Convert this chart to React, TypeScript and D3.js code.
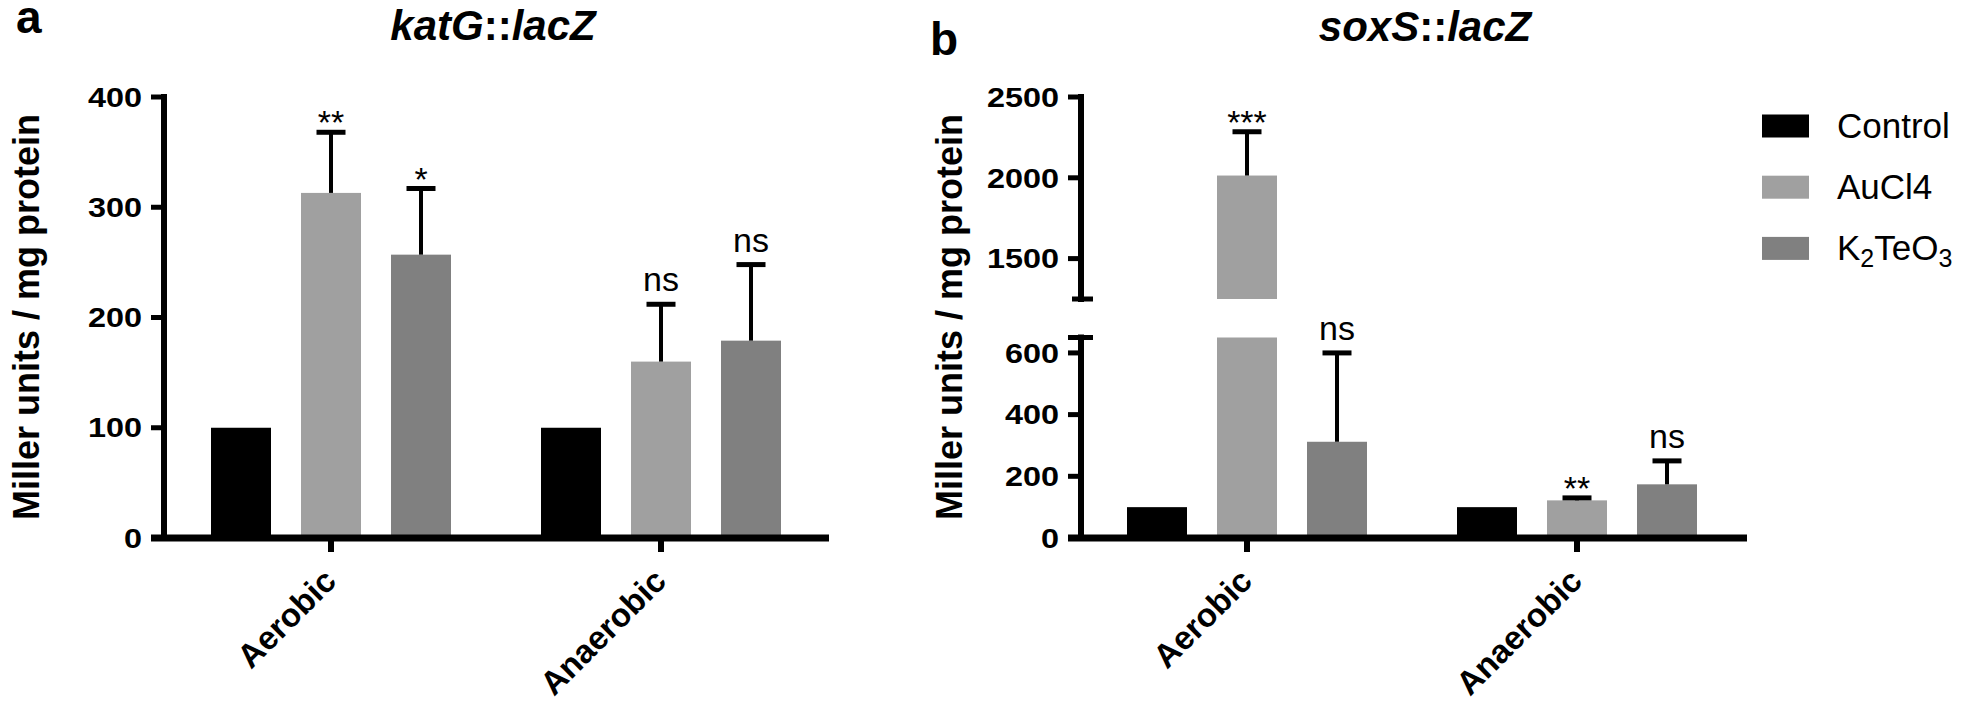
import React from 'react';
import * as d3 from 'd3';

const FONT = "'Liberation Sans', Arial, Helvetica, sans-serif";

const categories = ['Aerobic', 'Anaerobic'];
const series = ['Control', 'AuCl4', 'K2TeO3'];
const seriesColors = ['#000000', '#a0a0a0', '#808080'];

// Panel a: katG::lacZ (Miller units / mg protein)
const katGControl = [100, 100];
const katGAuCl4 = [313, 160];
const katGK2TeO3 = [257, 179];
const katGErrControl = [0, 0];
const katGErrAuCl4 = [55, 52];
const katGErrK2TeO3 = [60, 69];
const katGSigControl = ['', ''];
const katGSigAuCl4 = ['**', 'ns'];
const katGSigK2TeO3 = ['*', 'ns'];
const katGTicks = [0, 100, 200, 300, 400];
const katGDomain: [number, number] = [0, 400];

// Panel b: soxS::lacZ (broken axis)
const soxSControl = [100, 100];
const soxSAuCl4 = [2014, 122];
const soxSK2TeO3 = [312, 174];
const soxSErrControl = [0, 0];
const soxSErrAuCl4 = [271, 8];
const soxSErrK2TeO3 = [288, 76];
const soxSSigControl = ['', ''];
const soxSSigAuCl4 = ['***', '**'];
const soxSSigK2TeO3 = ['ns', 'ns'];
const soxSLowerTicks = [0, 200, 400, 600];
const soxSLowerDomain: [number, number] = [0, 650];
const soxSUpperTicks = [1500, 2000, 2500];
const soxSUpperDomain: [number, number] = [1250, 2500];

type Seg = { domain: [number, number]; range: [number, number]; ticks: number[] };

type PanelProps = {
  letter: string;
  letterX: number;
  letterY: number;
  title: [string, string];
  titleX: number;
  titleY: number;
  axisX: number;
  xRange: [number, number];
  xAxisEnd: number;
  segs: Seg[];
  values: number[][];
  errs: number[][];
  sigs: string[][];
  yLabelX: number;
};

function Panel(p: PanelProps) {
  const x0 = d3.scaleBand<string>().domain(categories).range(p.xRange);
  const x1 = d3
    .scaleBand<string>()
    .domain(series)
    .range([-135, 135])
    .paddingInner(1 / 3)
    .paddingOuter(1 / 6);
  const scales = p.segs.map((s) => d3.scaleLinear().domain(s.domain).range(s.range));
  const baseY = scales[0](0);
  const bw = x1.bandwidth();

  const bars: JSX.Element[] = [];
  const errEls: JSX.Element[] = [];
  const sigEls: JSX.Element[] = [];

  series.forEach((s, si) => {
    categories.forEach((c, ci) => {
      const v = p.values[si][ci];
      const cx = (x0(c) as number) + x0.bandwidth() / 2 + (x1(s) as number) + bw / 2;
      let topY = 0;
      p.segs.forEach((seg, k) => {
        const sc = scales[k];
        const lo = seg.domain[0];
        const hi = seg.domain[1];
        if (v <= lo) return;
        const top = Math.min(v, hi);
        if (v <= hi) topY = sc(v);
        bars.push(
          <rect
            key={`b${si}${ci}${k}`}
            x={cx - bw / 2}
            y={sc(top)}
            width={bw}
            height={sc(lo) - sc(top)}
            fill={seriesColors[si]}
          />
        );
      });
      const e = p.errs[si][ci];
      let capY = topY;
      if (e > 0) {
        const tv = v + e;
        const k = p.segs.findIndex((seg) => tv >= seg.domain[0] && tv <= seg.domain[1]);
        const sc = scales[k];
        capY = sc(tv);
        errEls.push(
          <g key={`e${si}${ci}`} stroke="#000">
            <line x1={cx} x2={cx} y1={sc(v)} y2={capY} strokeWidth={4} />
            <line x1={cx - 14.5} x2={cx + 14.5} y1={capY} y2={capY} strokeWidth={5} />
          </g>
        );
      }
      const sig = p.sigs[si][ci];
      if (sig) {
        sigEls.push(
          <text
            key={`s${si}${ci}`}
            x={cx}
            y={capY + (sig === 'ns' ? -13 : 2)}
            textAnchor="middle"
            fontSize={34}
            fontFamily={FONT}
            fill="#000"
          >
            {sig}
          </text>
        );
      }
    });
  });

  const axisEls: JSX.Element[] = [];
  p.segs.forEach((seg, k) => {
    const sc = scales[k];
    axisEls.push(
      <line
        key={`ax${k}`}
        x1={p.axisX}
        x2={p.axisX}
        y1={sc(seg.domain[0])}
        y2={sc(seg.domain[1])}
        stroke="#000"
        strokeWidth={6}
        strokeLinecap="square"
      />
    );
    seg.ticks.forEach((t) => {
      const y = sc(t);
      axisEls.push(
        <line key={`t${k}${t}`} x1={p.axisX - 13} x2={p.axisX} y1={y} y2={y} stroke="#000" strokeWidth={5} />
      );
      axisEls.push(
        <g key={`tl${k}${t}`} transform={`translate(${p.axisX - 22},${y}) scale(1.2,1)`}>
          <text textAnchor="end" dy="0.36em" fontSize={27} fontWeight="bold" fontFamily={FONT} fill="#000">
            {t}
          </text>
        </g>
      );
    });
    if (p.segs.length > 1) {
      if (k < p.segs.length - 1) {
        const y = sc(seg.domain[1]);
        axisEls.push(
          <line key={`bk${k}`} x1={p.axisX - 13} x2={p.axisX + 12} y1={y} y2={y} stroke="#000" strokeWidth={5} />
        );
      }
      if (k > 0) {
        const y = sc(seg.domain[0]);
        axisEls.push(
          <line key={`bl${k}`} x1={p.axisX - 9} x2={p.axisX + 12} y1={y} y2={y} stroke="#000" strokeWidth={5} />
        );
      }
    }
  });

  return (
    <g>
      <text x={p.letterX} y={p.letterY} fontSize={46} fontWeight="bold" fontFamily={FONT} fill="#000">
        {p.letter}
      </text>
      <text
        x={p.titleX}
        y={p.titleY}
        textAnchor="middle"
        fontSize={42}
        fontWeight="bold"
        fontStyle="italic"
        fontFamily={FONT}
        fill="#000"
      >
        {p.title[0]}
        <tspan fontStyle="normal">::</tspan>
        {p.title[1]}
      </text>
      <text
        transform={`translate(${p.yLabelX},317) rotate(-90)`}
        textAnchor="middle"
        fontSize={36}
        fontWeight="bold"
        fontFamily={FONT}
        fill="#000"
      >
        Miller units / mg protein
      </text>
      {bars}
      {errEls}
      {sigEls}
      {axisEls}
      <line x1={p.axisX - 13} x2={p.xAxisEnd} y1={baseY} y2={baseY} stroke="#000" strokeWidth={7} />
      {categories.map((c) => {
        const cx = (x0(c) as number) + x0.bandwidth() / 2;
        return (
          <g key={c}>
            <line x1={cx} x2={cx} y1={baseY} y2={baseY + 14} stroke="#000" strokeWidth={6} />
            <text
              transform={`translate(${cx + 7},${baseY + 45}) rotate(-45)`}
              textAnchor="end"
              fontSize={33}
              fontWeight="bold"
              fontFamily={FONT}
              fill="#000"
            >
              {c}
            </text>
          </g>
        );
      })}
    </g>
  );
}

function SeriesLabel({ name }: { name: string }) {
  if (name === 'K2TeO3') {
    return (
      <>
        K
        <tspan dy={7} fontSize={25}>
          2
        </tspan>
        <tspan dy={-7}>TeO</tspan>
        <tspan dy={7} fontSize={25}>
          3
        </tspan>
      </>
    );
  }
  return <>{name}</>;
}

export default function App() {
  return (
    <svg
      width={1964}
      height={705}
      viewBox="0 0 1964 705"
      style={{ position: 'absolute', left: 0, top: 0, display: 'block', background: '#fff' }}
    >
      <rect x={0} y={0} width={1964} height={705} fill="#fff" />
      <Panel
        letter="a"
        letterX={16}
        letterY={33}
        title={['katG', 'lacZ']}
        titleX={493}
        titleY={40}
        axisX={164}
        xRange={[166, 826]}
        xAxisEnd={829}
        segs={[{ domain: katGDomain, range: [538, 97], ticks: katGTicks }]}
        values={[katGControl, katGAuCl4, katGK2TeO3]}
        errs={[katGErrControl, katGErrAuCl4, katGErrK2TeO3]}
        sigs={[katGSigControl, katGSigAuCl4, katGSigK2TeO3]}
        yLabelX={39}
      />
      <Panel
        letter="b"
        letterX={930}
        letterY={55}
        title={['soxS', 'lacZ']}
        titleX={1425}
        titleY={41}
        axisX={1081}
        xRange={[1082, 1742]}
        xAxisEnd={1747}
        segs={[
          { domain: soxSLowerDomain, range: [538, 337.5], ticks: soxSLowerTicks },
          { domain: soxSUpperDomain, range: [299, 97], ticks: soxSUpperTicks },
        ]}
        values={[soxSControl, soxSAuCl4, soxSK2TeO3]}
        errs={[soxSErrControl, soxSErrAuCl4, soxSErrK2TeO3]}
        sigs={[soxSSigControl, soxSSigAuCl4, soxSSigK2TeO3]}
        yLabelX={962}
      />
      <g>
        {series.map((s, i) => (
          <g key={s} transform={`translate(1762,${114.5 + i * 61.2})`}>
            <rect x={0} y={0} width={47} height={23} fill={seriesColors[i]} />
            <text x={75} y={23} fontSize={35} fontFamily={FONT} fill="#000">
              <SeriesLabel name={s} />
            </text>
          </g>
        ))}
      </g>
    </svg>
  );
}
